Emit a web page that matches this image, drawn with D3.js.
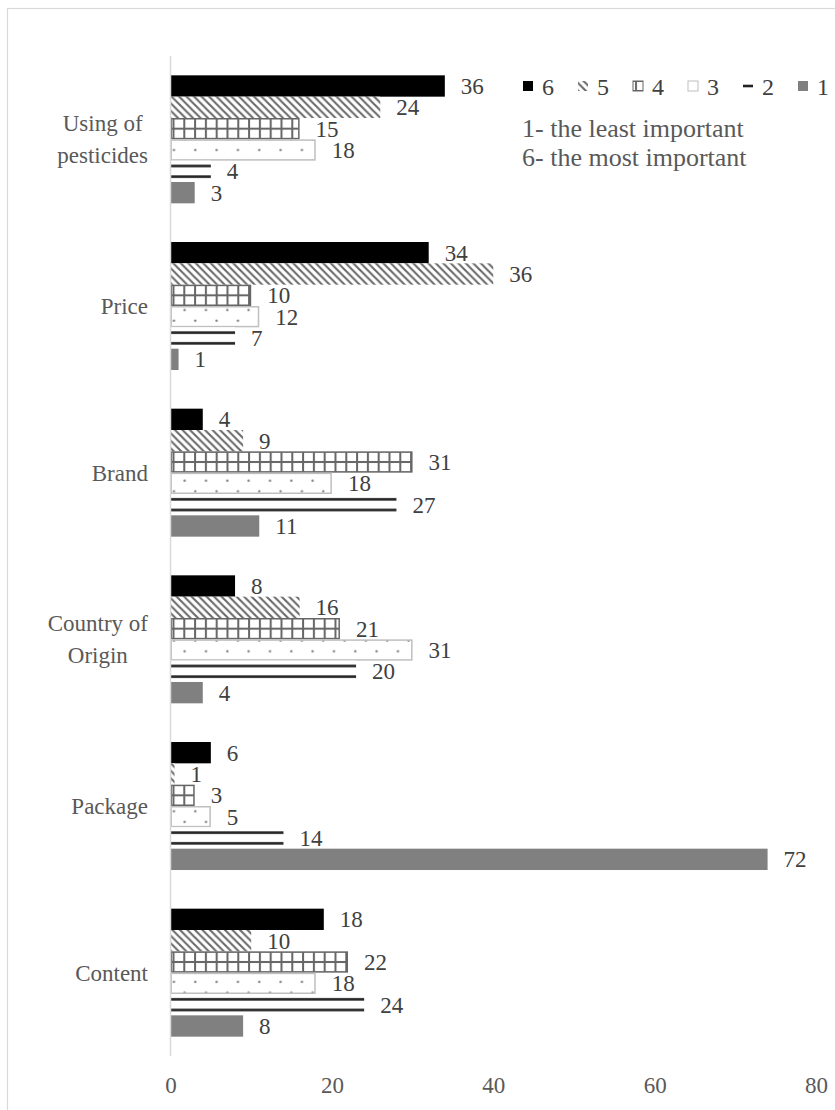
<!DOCTYPE html>
<html><head><meta charset="utf-8">
<script src="https://cdn.jsdelivr.net/npm/d3@7"></script>
<style>
body{margin:0;background:#fff}
svg{display:block}
svg text{font-family:'Liberation Serif','Times New Roman',Tinos,'DejaVu Serif',serif}
</style>
</head><body><svg id="c" width="835" height="1110" font-family="'Liberation Serif', 'Times New Roman', serif"></svg>
<script>
// ---- data ----
const categories = ["Using of pesticides", "Price", "Brand", "Country of Origin", "Package", "Content"];
const categoryLines = [["Using of", "pesticides"], ["Price"], ["Brand"], ["Country of", "Origin"], ["Package"], ["Content"]];
const series = ["6", "5", "4", "3", "2", "1"];
// bar lengths (as drawn)
const s6 = [34, 32, 4, 8, 5, 19];
const s5 = [26, 40, 9, 16, 0.5, 10];
const s4 = [16, 10, 30, 21, 3, 22];
const s3 = [18, 11, 20, 30, 5, 18];
const s2 = [5, 8, 28, 23, 14, 24];
const s1 = [3, 1, 11, 4, 74, 9];
// data labels (as printed)
const l6 = [36, 34, 4, 8, 6, 18];
const l5 = [24, 36, 9, 16, 1, 10];
const l4 = [15, 10, 31, 21, 3, 22];
const l3 = [18, 12, 18, 31, 5, 18];
const l2 = [4, 7, 27, 20, 14, 24];
const l1 = [3, 1, 11, 4, 72, 8];
const xTicks = [0, 20, 40, 60, 80];
const noteLines = ["1- the least important", "6- the most important"];

const values = {"6": s6, "5": s5, "4": s4, "3": s3, "2": s2, "1": s1};
const labels = {"6": l6, "5": l5, "4": l4, "3": l3, "2": l2, "1": l1};
const FONT = "'Liberation Serif', 'Times New Roman', serif";

// ---- layout ----
const svg = d3.select("#c");
const defs = svg.append("defs");
const x = d3.scaleLinear().domain([0, 80]).range([170.5, 816]);
const y = d3.scaleBand().domain(categories).range([56, 1056]).paddingInner(0.232).paddingOuter(0.116);
const ys = d3.scaleBand().domain(series).range([0, y.bandwidth()]).padding(0);
const bh = ys.bandwidth();

// chart border
svg.append("rect").attr("x", 7.5).attr("y", 8.5).attr("width", 840).attr("height", 1120)
  .attr("fill", "none").attr("stroke", "#d9d9d9").attr("stroke-width", 1.2);

// global patterns
const p = 7.5;
const diag = defs.append("pattern").attr("id", "diag").attr("patternUnits", "userSpaceOnUse")
  .attr("width", p).attr("height", p);
diag.append("rect").attr("width", p).attr("height", p).attr("fill", "#fff");
diag.append("path").attr("d", `M-1,-1L${p+1},${p+1}M${p-1.5},-1.5L${p+1.5},1.5M-1.5,${p-1.5}L1.5,${p+1.5}`)
  .attr("stroke", "#6a6a6a").attr("stroke-width", 2.1);

const dp = 21.33;
const dots = defs.append("pattern").attr("id", "dots").attr("patternUnits", "userSpaceOnUse")
  .attr("width", dp).attr("height", dp);
dots.append("rect").attr("width", dp).attr("height", dp).attr("fill", "#fff");
dots.append("circle").attr("cx", 3.3).attr("cy", 0.7).attr("r", 1.2).attr("fill", "#7f7f7f");
dots.append("circle").attr("cx", 14).attr("cy", 11.3).attr("r", 1.2).attr("fill", "#7f7f7f");
dots.append("circle").attr("cx", 3.3).attr("cy", dp + 0.7).attr("r", 1.2).attr("fill", "#7f7f7f");

let pid = 0;
function gridPattern(x0, y0, h) {
  const id = "grid" + (pid++);
  const pt = defs.append("pattern").attr("id", id).attr("patternUnits", "userSpaceOnUse")
    .attr("x", x0).attr("y", y0).attr("width", 10.8).attr("height", h / 2);
  pt.append("rect").attr("width", 10.8).attr("height", h / 2).attr("fill", "#fff");
  pt.append("rect").attr("x", 2).attr("y", 0).attr("width", 2).attr("height", h / 2).attr("fill", "#666");
  pt.append("rect").attr("x", 0).attr("y", -1).attr("width", 10.8).attr("height", 2).attr("fill", "#666");
  pt.append("rect").attr("x", 0).attr("y", h / 2 - 1).attr("width", 10.8).attr("height", 2).attr("fill", "#666");
  return `url(#${id})`;
}
function linePattern(x0, y0, h) {
  const id = "dl" + (pid++);
  const pt = defs.append("pattern").attr("id", id).attr("patternUnits", "userSpaceOnUse")
    .attr("x", x0).attr("y", y0).attr("width", 4).attr("height", h / 2);
  pt.append("rect").attr("width", 4).attr("height", h / 2).attr("fill", "#fff");
  pt.append("rect").attr("x", 0).attr("y", h / 4 - 1.3).attr("width", 4).attr("height", 2.6).attr("fill", "#222");
  return `url(#${id})`;
}

function styleFor(s, x0, y0, h) {
  switch (s) {
    case "6": return {fill: "#000", stroke: "none"};
    case "5": return {fill: "url(#diag)", stroke: "none"};
    case "4": return {fill: gridPattern(x0, y0, h), stroke: "#666"};
    case "3": return {fill: "url(#dots)", stroke: "#bfbfbf"};
    case "2": return {fill: linePattern(x0, y0, h), stroke: "none"};
    case "1": return {fill: "#808080", stroke: "none"};
  }
}

// bars
const gBars = svg.append("g");
categories.forEach((cat, i) => {
  series.forEach(s => {
    const v = values[s][i];
    const y0 = y(cat) + ys(s);
    const st = styleFor(s, x(0), y0, bh);
    const r = gBars.append("rect")
      .attr("x", x(0)).attr("y", y0)
      .attr("width", x(v) - x(0)).attr("height", bh)
      .attr("fill", st.fill);
    if (st.stroke !== "none") {
      r.attr("stroke", st.stroke).attr("stroke-width", 1.5);
      r.attr("x", x(0) + 0.75).attr("y", y0 + 0.75).attr("width", Math.max(0, x(v) - x(0) - 1.5)).attr("height", bh - 1.5);
    }
    gBars.append("text")
      .attr("x", x(v) + 16).attr("y", y0 + bh / 2 + 8)
      .attr("font-family", FONT)
      .attr("font-size", 23).attr("fill", "#404040")
      .text(labels[s][i]);
  });
});

// axis line (category axis)
svg.append("line").attr("x1", x(0)).attr("x2", x(0)).attr("y1", 56).attr("y2", 1056)
  .attr("stroke", "#d9d9d9").attr("stroke-width", 1.5);

// x tick labels
const xAxis = d3.axisBottom(x).tickValues(xTicks).tickSize(0).tickPadding(0);
const gx = svg.append("g").attr("transform", "translate(0,1072)").call(xAxis);
gx.attr("font-family", FONT);
gx.select(".domain").remove();
gx.selectAll("text").attr("font-size", 23).attr("fill", "#595959")
  .attr("font-family", FONT).attr("dy", "0.9em");

// category labels
categories.forEach((cat, i) => {
  const lines = categoryLines[i];
  const cy = y(cat) + y.bandwidth() / 2;
  const t = svg.append("text").attr("font-family", FONT).attr("font-size", 23).attr("fill", "#595959").attr("text-anchor", "middle");
  const spans = lines.map((ln, k) => t.append("tspan").attr("y", cy + (k - (lines.length - 1) / 2) * 32 + 8).text(ln));
  let maxW = 0;
  spans.forEach(sp => { maxW = Math.max(maxW, sp.node().getComputedTextLength()); });
  spans.forEach(sp => sp.attr("x", 148 - maxW / 2));
});

// legend
const lg = svg.append("g");
series.forEach((s, k) => {
  const mx = 523 + 55 * k, my = 81, ms = 10;
  const st = styleFor(s, mx, my, ms * 2);
  const r = lg.append("rect").attr("x", mx).attr("y", my).attr("width", ms).attr("height", ms).attr("fill", st.fill);
  if (st.stroke !== "none") r.attr("stroke", st.stroke).attr("stroke-width", 1);
  lg.append("text").attr("x", mx + 19).attr("y", my + 14).attr("font-family", FONT).attr("font-size", 24).attr("fill", "#404040").text(s);
});

// note
noteLines.forEach((ln, k) => {
  svg.append("text").attr("x", 522).attr("y", 137 + k * 29).attr("font-family", FONT).attr("font-size", 26).attr("fill", "#595959").text(ln);
});
</script>
</body></html>
